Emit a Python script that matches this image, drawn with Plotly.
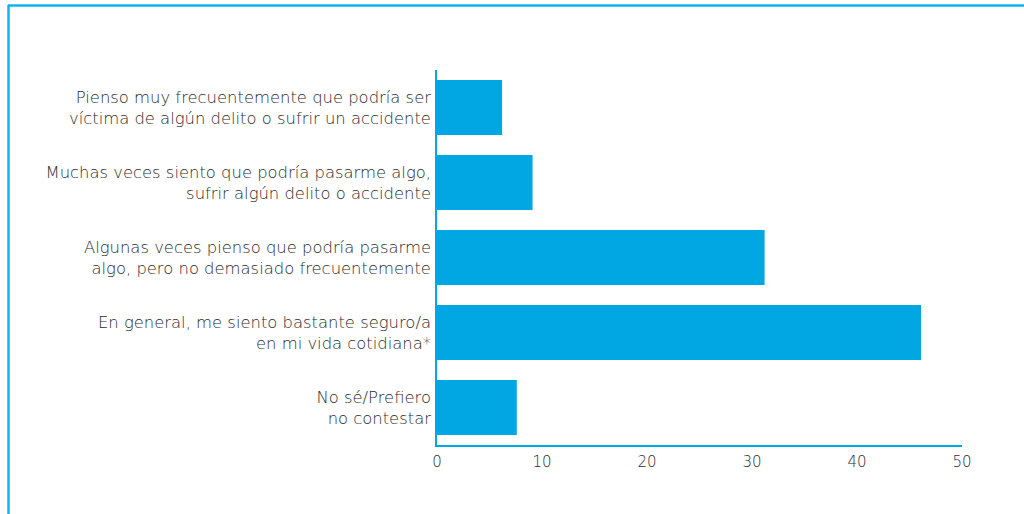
import plotly.graph_objects as go

# Survey responses (percent)
categorias = [
    "Pienso muy frecuentemente que podría ser<br>víctima de algún delito o sufrir un accidente",
    "Muchas veces siento que podría pasarme algo,<br>sufrir algún delito o accidente",
    "Algunas veces pienso que podría pasarme<br>algo, pero no demasiado frecuentemente",
    "En general, me siento bastante seguro/a<br>en mi vida cotidiana*",
    "No sé/Prefiero<br>no contestar",
]
valores = [6.2, 9.1, 31.2, 46.1, 7.6]
ticks_x = [0, 10, 20, 30, 40, 50]

BAR = "#00A7E2"
FRAME = "#0AB4EE"
TEXT = "#2b2b2b"

W, H = 1024, 514
ML, MR, MT, MB = 437, 62, 70, 69
pw, ph = W - ML - MR, H - MT - MB

def px_x(x):
    return (x - ML) / pw

def px_y(y):
    return 1 - (y - MT) / ph

fig = go.Figure(
    go.Bar(
        x=valores,
        y=categorias,
        orientation="h",
        marker=dict(color=BAR, line=dict(width=0)),
        width=0.733,
        hoverinfo="x+y",
    )
)

fig.update_layout(
    width=W,
    height=H,
    margin=dict(l=ML, r=MR, t=MT, b=MB, autoexpand=False),
    paper_bgcolor="white",
    plot_bgcolor="white",
    font=dict(family="DejaVu Sans", size=15, color=TEXT),
    showlegend=False,
    xaxis=dict(
        range=[0, 50],
        tickvals=ticks_x,
        ticktext=[str(t) for t in ticks_x],
        showgrid=False,
        zeroline=False,
        showline=True,
        linecolor=BAR,
        linewidth=1.5,
        ticks="outside",
        ticklen=2,
        tickcolor="rgba(0,0,0,0)",
        tickfont=dict(size=15, color=TEXT, weight=300),
        fixedrange=True,
    ),
    yaxis=dict(
        categoryorder="array",
        categoryarray=categorias[::-1],
        range=[-0.5, 4.5],
        showgrid=False,
        zeroline=False,
        showline=True,
        linecolor=BAR,
        linewidth=1.5,
        ticks="outside",
        ticklen=1,
        tickcolor="rgba(0,0,0,0)",
        tickfont=dict(size=16.4, color=TEXT, weight=300),
        fixedrange=True,
    ),
    shapes=[
        # frame: top and left rules
        dict(type="line", xref="paper", yref="paper",
             x0=px_x(8), x1=px_x(W + 5), y0=px_y(5.5), y1=px_y(5.5),
             line=dict(color=FRAME, width=2.5)),
        dict(type="line", xref="paper", yref="paper",
             x0=px_x(8.5), x1=px_x(8.5), y0=px_y(5), y1=px_y(H + 5),
             line=dict(color=FRAME, width=2.5)),
    ],
)

fig.write_html("out.html")
